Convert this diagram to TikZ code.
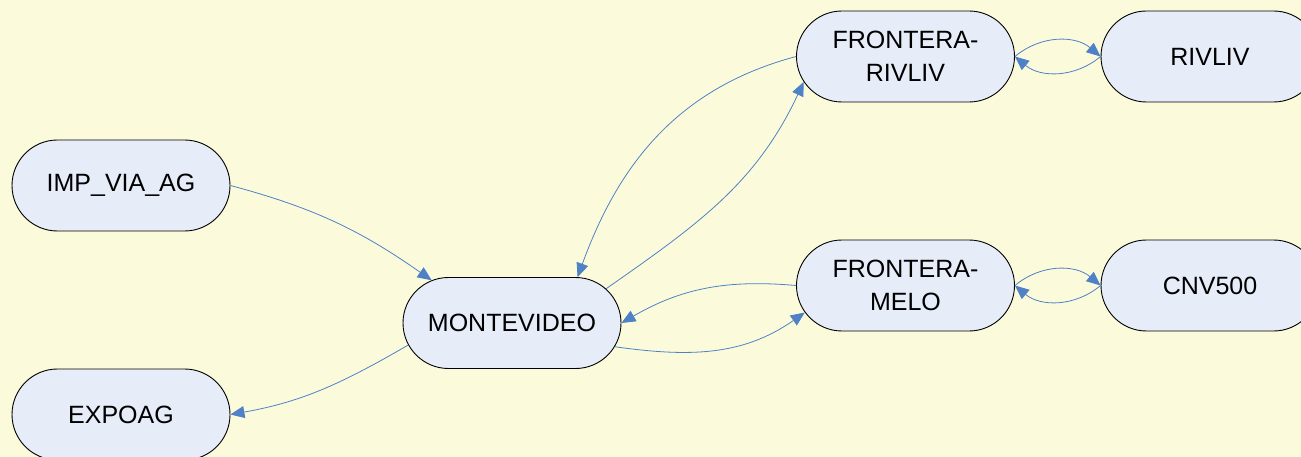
\documentclass[tikz,border=0pt]{standalone}
\usepackage{fontspec}
\setmainfont{Liberation Sans}
\usetikzlibrary{shapes.misc,arrows.meta}
\definecolor{bgc}{RGB}{251,251,219}
\definecolor{nodefill}{RGB}{231,237,248}
\definecolor{edgec}{RGB}{79,129,199}
\tikzset{
  box/.style={rounded rectangle, draw=black, line width=0.9pt, fill=nodefill,
    minimum width=218pt, minimum height=91pt, inner sep=0pt, align=center,
    font=\fontsize{25}{33}\selectfont},
  link/.style={draw=edgec, line width=0.8pt,
    -{Triangle[length=14pt,width=12pt,fill=edgec]}}
}
\begin{document}
\begin{tikzpicture}[x=1pt,y=-1pt]
\fill[bgc] (0,0) rectangle (1301,457);
\useasboundingbox (0,0) rectangle (1301,457);
\clip (0,0) rectangle (1301,457);
\node[box] (imp) at (121,185.5) {IMP\_VIA\_AG};
\node[box] (expo) at (121,414.5) {EXPOAG};
\node[box] (mv) at (512,323) {MONTEVIDEO};
\node[box] (fr) at (905.5,56.5) {FRONTERA-\\RIVLIV};
\node[box] (riv) at (1210,56.5) {RIVLIV};
\node[box] (fm) at (905.5,285.5) {FRONTERA-\\MELO};
\node[box] (cnv) at (1210,285.5) {CNV500};
\draw[link] (imp.east) to[out=-15,in=145] (mv.152);
\draw[link] (mv.192) to[out=210,in=10] (expo.east);
\draw[link] (mv.20) to[out=35,in=-115] (fr.194);
\draw[link] (fr.west) to[out=195,in=70] (mv.35.5);
\draw[link] (mv.-13) to[out=-8,in=-145] (fm.195);
\draw[link] (fm.west) to[out=175,in=30] (mv.east);
\draw[link] (fr.east) to[out=40,in=140] (riv.west);
\draw[link] (riv.west) to[out=-140,in=-40] (fr.east);
\draw[link] (fm.east) to[out=40,in=140] (cnv.west);
\draw[link] (cnv.west) to[out=-140,in=-40] (fm.east);
\end{tikzpicture}
\end{document}
